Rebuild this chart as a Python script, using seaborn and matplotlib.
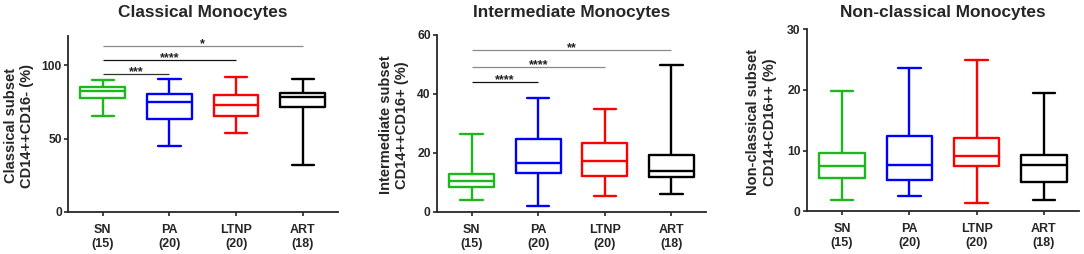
import numpy as np
import pandas as pd
import matplotlib
matplotlib.use("Agg")
import matplotlib.pyplot as plt
import seaborn as sns

# ---------------- data (five-number summaries: min, Q1, median, Q3, max) ----------------
groups = ["SN", "PA", "LTNP", "ART"]
counts = [15, 20, 20, 18]
colors = ["#1cb81c", "#0000ff", "#ff0000", "#000000"]

classical_SN = [65.1, 77.6, 82.3, 84.8, 89.8]
classical_PA = [45.1, 63.5, 74.6, 80.3, 90.2]
classical_LTNP = [54.0, 65.5, 72.8, 79.8, 92.0]
classical_ART = [31.7, 71.2, 78.0, 80.7, 90.7]

intermediate_SN = [4.1, 8.6, 10.6, 12.9, 26.3]
intermediate_PA = [2.1, 13.2, 16.6, 24.6, 38.7]
intermediate_LTNP = [5.4, 12.3, 17.4, 23.4, 34.8]
intermediate_ART = [6.0, 12.0, 13.8, 19.4, 49.7]

nonclassical_SN = [1.9, 5.55, 7.5, 9.56, 19.8]
nonclassical_PA = [2.5, 5.1, 7.7, 12.4, 23.6]
nonclassical_LTNP = [1.3, 7.4, 9.1, 12.1, 24.9]
nonclassical_ART = [1.9, 4.9, 7.6, 9.3, 19.5]

titles = ["Classical Monocytes", "Intermediate Monocytes", "Non-classical Monocytes"]
ylabels = ["Classical subset\nCD14++CD16- (%)",
           "Intermediate subset\nCD14++CD16+ (%)",
           "Non-classical subset\nCD14+CD16++ (%)"]

# significance brackets: (target group index, height, label)
classical_sig = [(1, 93.9, "***"), (2, 103.4, "****"), (3, 113.2, "*")]
intermediate_sig = [(1, 43.9, "****"), (2, 49.2, "****"), (3, 54.8, "**")]
nonclassical_sig = []
classical_sig_colors = ["#333333", "#111111", "#8a8a8a"]
intermediate_sig_colors = ["#111111", "#8a8a8a", "#8a8a8a"]

# ---------------- styling ----------------
sns.set_style("ticks")
plt.rcParams["font.family"] = ["Liberation Sans", "DejaVu Sans"]
plt.rcParams["font.weight"] = "bold"
plt.rcParams["axes.labelweight"] = "bold"

fig = plt.figure(figsize=(10.84, 2.54), dpi=100)
W, H = 1084.0, 254.0

panels = [
    dict(data=[classical_SN, classical_PA, classical_LTNP, classical_ART],
         rect=(68, 212, 337.5, 35.6), ylim=(0, 120), yticks=[0, 50, 100],
         sig=classical_sig, sigc=classical_sig_colors, labx=-0.182),
    dict(data=[intermediate_SN, intermediate_PA, intermediate_LTNP, intermediate_ART],
         rect=(437, 212, 706, 34.7), ylim=(0, 60), yticks=[0, 20, 40, 60],
         sig=intermediate_sig, sigc=intermediate_sig_colors, labx=-0.16),
    dict(data=[nonclassical_SN, nonclassical_PA, nonclassical_LTNP, nonclassical_ART],
         rect=(807, 211.3, 1079, 29.3), ylim=(0, 30), yticks=[0, 10, 20, 30],
         sig=nonclassical_sig, sigc=[], labx=-0.167),
]

for i, p in enumerate(panels):
    l, b, r, t = p["rect"]
    ax = fig.add_axes([l / W, 1 - b / H, (r - l) / W, (b - t) / H])
    df = pd.DataFrame({
        "group": np.repeat(groups, [len(v) for v in p["data"]]),
        "value": np.concatenate(p["data"]),
    })
    sns.boxplot(data=df, x="group", y="value", hue="group", order=groups,
                hue_order=groups, palette=colors, fill=False, whis=(0, 100),
                width=0.67, linewidth=1.7, legend=False, ax=ax, showfliers=False)
    ax.set_xlim(-0.52, 3.52)
    ax.set_ylim(*p["ylim"])
    ax.set_yticks(p["yticks"])
    ax.set_xticks(range(len(groups)))
    ax.set_xticklabels([f"{g}\n({n})" for g, n in zip(groups, counts)],
                       fontsize=9, fontweight="bold", linespacing=1.2)
    ax.tick_params(axis="y", labelsize=8.7, length=3, width=1.2, pad=1.5)
    ax.tick_params(axis="x", length=3, width=1.2, pad=5.5)
    for s in ["top", "right"]:
        ax.spines[s].set_visible(False)
    for s in ["left", "bottom"]:
        ax.spines[s].set_linewidth(1.3)
    ax.set_xlabel("")
    ax.set_ylabel(ylabels[i], fontsize=10.5,
                  fontweight="bold", linespacing=1.2, va="center")
    ax.yaxis.set_label_coords(p["labx"], 0.49)
    for (tgt, h, lab), c in zip(p["sig"], p["sigc"]):
        ax.plot([0, tgt], [h, h], color=c, lw=0.9, solid_capstyle="butt")
        ax.annotate(lab, xy=(tgt / 2, h), xytext=(0, -1.0), textcoords="offset points",
                    ha="center", va="baseline", fontsize=9, fontweight="bold",
                    color="#222222")
    fig.text((l + r) / 2 / W, 1 - 17 / H, titles[i], ha="center", va="baseline",
             fontsize=12.4, fontweight="bold")

fig.savefig("out.png", dpi=100)
